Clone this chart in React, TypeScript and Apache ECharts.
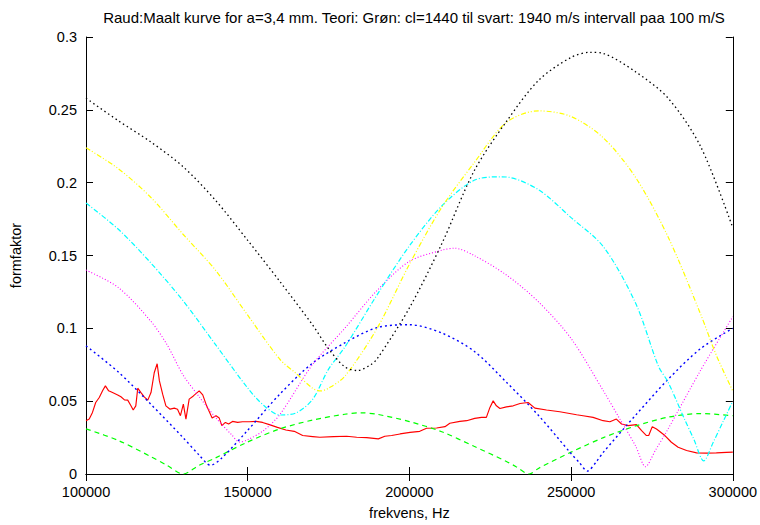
import React, { useEffect, useRef } from "react";
import * as echarts from "echarts";

const titleText =
  "Raud:Maalt kurve for a=3,4 mm. Teori: Grøn: cl=1440 til svart: 1940 m/s intervall paa 100 m/S";
const xName = "frekvens, Hz";
const yName = "formfaktor";

// Measured (red)
const redFreq = [
  100000, 101000, 102000, 103000, 104100, 105200, 106000, 107000, 108200, 109800,
  110800, 111900, 112900, 113900, 114600, 115400, 116000, 117000, 118000, 119100,
  120100, 121100, 122000, 122700, 123700, 124700, 126000, 127300, 128300, 129200,
  130100, 130900, 131900, 133200, 135000, 136100, 137300, 139000, 140200, 141200,
  142000, 143100, 144100, 145300, 146900, 148400, 150500, 152600, 154600, 156700,
  159200, 161800, 164400, 167000, 170100, 172300, 176500, 180600, 183700, 186800,
  190400, 192400, 194500, 197100, 200200, 203200, 205300, 208400, 211000, 212500,
  215600, 217700, 220200, 222300, 223800, 224900, 225900, 226900, 228000, 230000,
  232100, 234200, 236700, 238800, 242400, 246500, 251700, 253700, 256800, 259900,
  262000, 264000, 265600, 267600, 270200, 271800, 273300, 274000, 275100, 276400,
  279000, 281000, 283100, 285700, 288800, 291800, 294900, 298000, 300000,
];
const redVal = [
  0.0366, 0.0377, 0.0423, 0.0491, 0.0525, 0.0575, 0.0605, 0.0571, 0.0559, 0.0543,
  0.053, 0.0509, 0.0507, 0.0468, 0.0439, 0.0468, 0.0589, 0.0559, 0.053, 0.0507,
  0.0559, 0.0695, 0.0757, 0.0639, 0.0548, 0.0468, 0.0445, 0.0452, 0.0445, 0.04,
  0.048, 0.0377, 0.0514, 0.0536, 0.0571, 0.0543, 0.0468, 0.0384, 0.04, 0.0384,
  0.0332, 0.0354, 0.0343, 0.0361, 0.0354, 0.0359, 0.0359, 0.0361, 0.0354, 0.0339,
  0.032, 0.0302, 0.0293, 0.0264, 0.0257, 0.0252, 0.0257, 0.0259, 0.0252, 0.025,
  0.0241, 0.0259, 0.0264, 0.0275, 0.0286, 0.0293, 0.0314, 0.0316, 0.0325, 0.0348,
  0.0361, 0.0366, 0.0382, 0.0389, 0.0389, 0.0457, 0.0502, 0.0468, 0.045, 0.0461,
  0.0468, 0.0484, 0.0491, 0.0452, 0.0439, 0.0427, 0.0407, 0.04, 0.0389, 0.0366,
  0.0359, 0.0377, 0.0343, 0.0332, 0.0339, 0.0298, 0.0264, 0.0264, 0.0325, 0.0309,
  0.0264, 0.0218, 0.0184, 0.0161, 0.0145, 0.0143, 0.0145, 0.0148, 0.015,
];

// cl = 1440 (green)
const greenFreq = [
  100000, 110000, 120000, 125000, 130000, 135000, 140000, 150000, 160000, 170000,
  180000, 185000, 190000, 200000, 210000, 220000, 230000, 233000, 237000, 240000,
  250000, 260000, 270000, 280000, 290000, 300000,
];
const greenVal = [
  0.031, 0.023, 0.012, 0.006, 0.0, 0.006, 0.011, 0.022, 0.031, 0.037,
  0.041, 0.042, 0.041, 0.036, 0.029, 0.019, 0.0086, 0.005, 0.0, 0.004,
  0.015, 0.025, 0.033, 0.039, 0.0415, 0.04,
];

// cl = 1540 (blue)
const blueFreq = [
  100000, 110000, 120000, 130000, 135000, 138500, 142000, 150000, 160000, 170000,
  180000, 190000, 200000, 210000, 220000, 230000, 240000, 250000, 252500, 255000,
  258000, 260000, 270000, 280000, 290000, 300000,
];
const blueVal = [
  0.088, 0.07, 0.048, 0.025, 0.013, 0.006, 0.011, 0.03, 0.055, 0.076,
  0.09, 0.1005, 0.1025, 0.0968, 0.0843, 0.063, 0.04, 0.014, 0.008, 0.002,
  0.009, 0.015, 0.0405, 0.065, 0.086, 0.1,
];

// cl = 1640 (magenta)
const magentaFreq = [
  100000, 110000, 120000, 125000, 130000, 135000, 140000, 145000, 147500, 150000,
  155000, 160000, 170000, 180000, 190000, 200000, 210000, 214000, 220000, 230000,
  240000, 250000, 260000, 265000, 270000, 273000, 276000, 280000, 290000, 300000,
];
const magentaVal = [
  0.14, 0.128, 0.105, 0.089, 0.068, 0.053, 0.039, 0.027, 0.022, 0.0235,
  0.03, 0.041, 0.075, 0.1, 0.126, 0.146, 0.1536, 0.155, 0.15, 0.1366,
  0.118, 0.093, 0.057, 0.038, 0.019, 0.005, 0.016, 0.031, 0.071, 0.108,
];

// cl = 1740 (cyan)
const cyanFreq = [
  100000, 110000, 120000, 130000, 140000, 150000, 155000, 160000, 165000, 170000,
  175000, 180000, 190000, 200000, 210000, 220000, 228000, 230000, 240000, 250000,
  260000, 270000, 277000, 280000, 285000, 288000, 291000, 294000, 297000, 300000,
];
const cyanVal = [
  0.186, 0.168, 0.145, 0.119, 0.089, 0.059, 0.047, 0.0405, 0.042, 0.051,
  0.072, 0.087, 0.123, 0.1566, 0.184, 0.2016, 0.204, 0.2039, 0.195, 0.176,
  0.156, 0.117, 0.074, 0.063, 0.038, 0.0236, 0.009, 0.022, 0.036, 0.05,
];

// cl = 1840 (yellow)
const yellowFreq = [
  100000, 110000, 120000, 130000, 140000, 150000, 160000, 165000, 170000, 172500,
  175000, 180000, 190000, 200000, 210000, 220000, 230000, 240000, 250000, 260000,
  270000, 280000, 290000, 295000, 300000,
];
const yellowVal = [
  0.224, 0.2096, 0.19, 0.1646, 0.14, 0.109, 0.0786, 0.069, 0.059, 0.057,
  0.0589, 0.067, 0.1, 0.144, 0.183, 0.2136, 0.2414, 0.2493, 0.2454, 0.2307,
  0.2034, 0.1627, 0.11, 0.081, 0.057,
];

// cl = 1940 (black)
const blackFreq = [
  100000, 110000, 120000, 130000, 140000, 150000, 160000, 170000, 175000, 180000,
  184000, 188000, 190000, 200000, 210000, 220000, 230000, 240000, 250000, 256000,
  260000, 270000, 280000, 290000, 300000,
];
const blackVal = [
  0.258, 0.2425, 0.228, 0.211, 0.188, 0.1604, 0.132, 0.1025, 0.086, 0.0736,
  0.071, 0.075, 0.079, 0.114, 0.158, 0.208, 0.242, 0.2704, 0.286, 0.2895,
  0.2887, 0.276, 0.258, 0.225, 0.169,
];

const xTicks = [100000, 150000, 200000, 250000, 300000];
const yTicks = [0, 0.05, 0.1, 0.15, 0.2, 0.25, 0.3];

const FONT = "'Liberation Sans', Arial, sans-serif";
const FS = 14.5;

function zip(f: number[], v: number[]) {
  return f.map((x, i) => [x, v[i]]);
}

export default function App() {
  const ref = useRef<HTMLDivElement>(null);
  useEffect(() => {
    if (!ref.current) return;
    const chart = echarts.init(ref.current, undefined, { renderer: "svg" });
    const xMin = xTicks[0];
    const xMax = xTicks[xTicks.length - 1];
    const xInt = xTicks[1] - xTicks[0];
    const yMin = yTicks[0];
    const yMax = yTicks[yTicks.length - 1];
    const yInt = yTicks[1] - yTicks[0];
    const axisLine = { show: true, lineStyle: { color: "#000", width: 1 } };
    const tick = { show: true, inside: true, length: 7, lineStyle: { color: "#000", width: 1 } };
    const theo = (name: string, f: number[], v: number[], color: string, dash: number[], w = 1.2) => ({
      name,
      type: "line",
      data: zip(f, v),
      showSymbol: false,
      smooth: 0.3,
      lineStyle: { color, width: w, type: dash },
      z: 3,
    });
    chart.setOption({
      animation: false,
      backgroundColor: "#fff",
      graphic: [
        {
          type: "text",
          x: 414,
          y: 17,
          style: {
            text: titleText,
            font: `15px ${FONT}`,
            fill: "#000",
            textAlign: "center",
            textVerticalAlign: "middle",
          },
        },
      ],
      grid: { left: 86, right: 27, top: 37, bottom: 48, containLabel: false },
      xAxis: [
        {
          type: "value",
          min: xMin,
          max: xMax,
          interval: xInt,
          name: xName,
          nameLocation: "middle",
          nameGap: 31,
          nameTextStyle: { color: "#000", fontFamily: FONT, fontSize: FS },
          axisLine,
          axisTick: tick,
          splitLine: { show: false },
          axisLabel: {
            color: "#000",
            fontFamily: FONT,
            fontSize: FS,
            margin: 10,
            formatter: (v: number) => String(v),
          },
        },
        {
          type: "value",
          position: "top",
          min: xMin,
          max: xMax,
          interval: xInt,
          axisLine,
          axisTick: tick,
          splitLine: { show: false },
          axisLabel: { show: false },
        },
      ],
      yAxis: [
        {
          type: "value",
          min: yMin,
          max: yMax,
          interval: yInt,
          name: yName,
          nameLocation: "middle",
          nameGap: 63,
          nameTextStyle: { color: "#000", fontFamily: FONT, fontSize: FS },
          axisLine,
          axisTick: tick,
          splitLine: { show: false },
          axisLabel: {
            color: "#000",
            fontFamily: FONT,
            fontSize: FS,
            margin: 9,
            formatter: (v: number) => String(+v.toFixed(2)),
          },
        },
        {
          type: "value",
          position: "right",
          min: yMin,
          max: yMax,
          interval: yInt,
          axisLine,
          axisTick: tick,
          splitLine: { show: false },
          axisLabel: { show: false },
        },
      ],
      series: [
        {
          name: "Maalt",
          type: "line",
          data: zip(redFreq, redVal),
          showSymbol: false,
          lineStyle: { color: "#ff0000", width: 1.15 },
          z: 2,
        },
        theo("1440", greenFreq, greenVal, "#00ff00", [5, 4], 1.2),
        theo("1540", blueFreq, blueVal, "#0000ff", [2, 3], 1.4),
        theo("1640", magentaFreq, magentaVal, "#ff00ff", [1, 2], 1.1),
        theo("1740", cyanFreq, cyanVal, "#00ffff", [5, 2, 1, 2], 1.2),
        theo("1840", yellowFreq, yellowVal, "#ffff00", [5, 2, 1, 2, 1, 2], 1.2),
        theo("1940", blackFreq, blackVal, "#000000", [1.5, 3], 1.3),
      ],
    });
    return () => chart.dispose();
  }, []);
  return (
    <div
      ref={ref}
      style={{ position: "fixed", left: 0, top: 0, width: 760, height: 525 }}
    />
  );
}
